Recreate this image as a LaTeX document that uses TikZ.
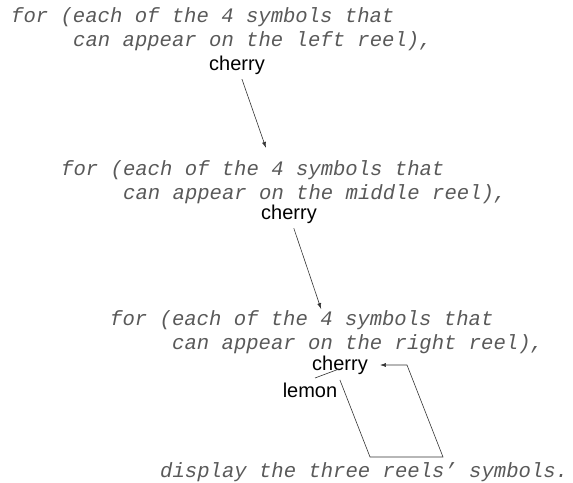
\documentclass[tikz,border=0pt]{standalone}
\usepackage{fontspec}
\setsansfont{Liberation Sans}
\newfontfamily\codefont{Liberation Mono}
\usetikzlibrary{arrows.meta,calc}

\begin{document}
\begin{tikzpicture}[x=1pt, y=-1pt,
	code/.style={anchor=west, inner sep=0pt, text=black!65,
		font=\codefont\itshape\fontsize{20.6}{24}\selectfont},
	sym/.style={inner sep=0pt, font=\sffamily\fontsize{20}{24}\selectfont},
	link/.style={black!80, line width=0.6pt},
	tip/.style={link, -{Latex[length=6pt,width=4pt]}}]

\useasboundingbox (0,0) rectangle (573,482);

% one loop per reel
\foreach \n/\reel/\x/\y/\cx/\cy in {1/left/11/17/237/65, 2/middle/61/170/289/214, 3/right/110/320/340/365}{
	\node[code] (for\n) at (\x, \y) {for (each of the 4 symbols that};
	\node[code] (can\n) at (\x+62, \y+24) {can appear on the \reel\ reel),};
	\node[sym] (cherry\n) at (\cx, \cy) {cherry};
}
\node[sym] (lemon) at (310, 390) {lemon};
\node[code] (show) at (160, 472) {display the three reels’ symbols.};

\draw[tip, shorten <=15pt, shorten >=70pt] (cherry1.center) -- (cherry2.center);
\draw[tip, shorten <=15pt, shorten >=59pt] (cherry2.center) -- (cherry3.center);

\draw[link] ($(lemon.center)+(5,-12)$) -- ($(cherry3.center)+(-1,4)$);

\coordinate (loopbl) at (370, 457);
\coordinate (loopbr) at (443, 457);
\coordinate (looptop) at (407, 365);
\draw[tip] ($(lemon.east)+(2.5,-10)$) -- (loopbl) -- (loopbr) -- (looptop) -- ($(cherry3.east)+(12,0)$);

\end{tikzpicture}
\end{document}
